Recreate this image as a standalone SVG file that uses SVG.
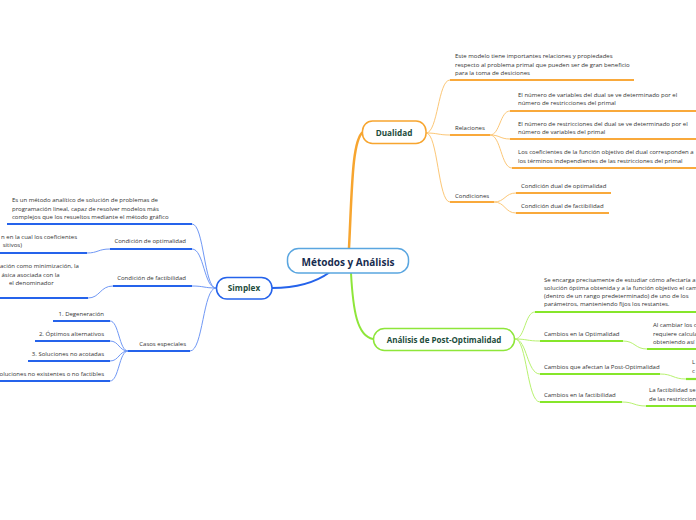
<svg xmlns="http://www.w3.org/2000/svg" width="696" height="520" viewBox="0 0 696 520">
<style>
.t{font-family:"Open Sans","Liberation Sans",sans-serif;font-size:6px;fill:#333}
.nt{font-family:"Open Sans","Liberation Sans",sans-serif;font-weight:bold;font-size:8.2px;fill:#1d4d3c;text-anchor:middle}
.e{text-anchor:end}
path,line{fill:none}
.co{stroke:#fcc777;stroke-width:1}
.uo{stroke:#f9a93b;stroke-width:2.2}
.cg{stroke:#b8f270;stroke-width:1}
.ug{stroke:#86e62a;stroke-width:2.2}
.cb{stroke:#7098f5;stroke-width:1}
.ub{stroke:#2563eb;stroke-width:2.2}
</style>
<rect width="696" height="520" fill="#fff"/>
<g id="connectors">
  <path d="M349,248 C352,190 352,140 363,132" stroke="#f7a52f" stroke-width="2.5"/>
  <path d="M351,273 C353,310 357,336 373,339" stroke="#8ee63a" stroke-width="2"/>
  <path d="M272,288 C295,288 315,283 330,272" stroke="#2563eb" stroke-width="2"/>
  <path class="co" d="M426,133 C438,133 438,80 450,80"/>
  <path class="co" d="M426,133 C438,133 438,135 450,135"/>
  <path class="co" d="M426,133 C438,133 438,202 450,202"/>
  <path class="co" d="M490,135 C500,135 500,111 510,111"/>
  <path class="co" d="M490,135 C500,135 500,139 510,139"/>
  <path class="co" d="M490,135 C501,135 501,168 512,168"/>
  <path class="co" d="M494,202 C505,202 505,193 516,193"/>
  <path class="co" d="M494,202 C505,202 505,213 516,213"/>
  <path class="cg" d="M515,339 C525,339 525,312 535,312"/>
  <path class="cg" d="M515,339 C527,339 527,341 540,341"/>
  <path class="cg" d="M515,339 C527,339 527,374 540,374"/>
  <path class="cg" d="M515,339 C527,339 527,402 540,402"/>
  <path class="cg" d="M623,341 C635,341 635,349 647,349"/>
  <path class="cg" d="M660,374 C673,374 673,379 686,379"/>
  <path class="cg" d="M622,402 C634,402 634,406 646,406"/>
  <path class="cb" d="M216,288 C204,288 204,224 192,224"/>
  <path class="cb" d="M216,288 C204,288 204,249 192,249"/>
  <path class="cb" d="M216,288 C204,288 204,286 192,286"/>
  <path class="cb" d="M216,288 C203,288 203,351 190,351"/>
  <path class="cb" d="M110,249 C98,249 98,253 87,253"/>
  <path class="cb" d="M113,286 C100,286 100,298 88,298"/>
  <path class="cb" d="M128,351 C119,351 119,321 110,321"/>
  <path class="cb" d="M128,351 C119,351 119,341 110,341"/>
  <path class="cb" d="M128,351 C119,351 119,361 110,361"/>
  <path class="cb" d="M128,351 C119,351 119,381 110,381"/>
</g>
<g id="central">
  <rect x="287.5" y="248.5" width="121" height="24.5" rx="11" fill="#fff" stroke="#5aa6e0" stroke-width="1.5"/>
  <text class="nt" x="348" y="265.5" style="font-size:10px;fill:#172c4f">Métodos y Análisis</text>
</g>
<g id="dualidad">
  <rect x="362.5" y="121" width="63.5" height="22.5" rx="10" fill="#fff" stroke="#f7a52f" stroke-width="1.5"/>
  <text class="nt" x="394" y="135.5">Dualidad</text>
</g>
<g id="dual-desc">
  <text class="t" x="455" y="57.8">Este modelo tiene importantes relaciones y propiedades</text>
  <text class="t" x="455" y="66.5">respecto al problema primal que pueden ser de gran beneficio</text>
  <text class="t" x="455" y="75.2">para la toma de desiciones</text>
  <line class="uo" x1="450" y1="80" x2="634" y2="80"/>
</g>
<g id="relaciones">
  <text class="t" x="455" y="130">Relaciones</text>
  <line class="uo" x1="450" y1="135" x2="490" y2="135"/>
</g>
<g id="rel-1">
  <text class="t" x="518" y="96.5">El número de variables del dual se ve determinado por el</text>
  <text class="t" x="518" y="105.3">número de restricciones del primal</text>
  <line class="uo" x1="510" y1="111" x2="696" y2="111"/>
</g>
<g id="rel-2">
  <text class="t" x="518" y="125.5">El número de restricciones del dual se ve determinado por el</text>
  <text class="t" x="518" y="133.5">número de variables del primal</text>
  <line class="uo" x1="510" y1="139" x2="696" y2="139"/>
</g>
<g id="rel-3">
  <text class="t" x="518" y="154.2">Los coeficientes de la función objetivo del dual corresponden a</text>
  <text class="t" x="518" y="163">los términos independientes de las restricciones del primal</text>
  <line class="uo" x1="512" y1="168" x2="696" y2="168"/>
</g>
<g id="condiciones">
  <text class="t" x="455" y="198">Condiciones</text>
  <line class="uo" x1="450" y1="202" x2="494" y2="202"/>
</g>
<g id="cond-1">
  <text class="t" x="521" y="188">Condición dual de optimalidad</text>
  <line class="uo" x1="516" y1="193" x2="611" y2="193"/>
</g>
<g id="cond-2">
  <text class="t" x="521" y="208">Condición dual de factibilidad</text>
  <line class="uo" x1="516" y1="213" x2="609" y2="213"/>
</g>
<g id="postopt">
  <rect x="373.5" y="328.5" width="141" height="22" rx="11" fill="#fff" stroke="#8ee63a" stroke-width="1.5"/>
  <text class="nt" x="444" y="342.5" style="font-size:8px">Análisis de Post-Optimalidad</text>
</g>
<g id="post-desc">
  <text class="t" x="544" y="281.5">Se encarga precisamente de estudiar cómo afectaría a</text>
  <text class="t" x="544" y="289.5">solución óptima obtenida y a la función objetivo el cam</text>
  <text class="t" x="544" y="297.5">(dentro de un rango predeterminado) de uno de los</text>
  <text class="t" x="544" y="305.5">parámetros, manteniendo fijos los restantes.</text>
  <line class="ug" x1="535" y1="312" x2="696" y2="312"/>
</g>
<g id="cambios-opt">
  <text class="t" x="544" y="336">Cambios en la Optimalidad</text>
  <line class="ug" x1="540" y1="341" x2="623" y2="341"/>
</g>
<g id="cambios-opt-1">
  <text class="t" x="653" y="327">Al cambiar los c</text>
  <text class="t" x="653" y="336">requiere calcula</text>
  <text class="t" x="653" y="344">obteniendo así r</text>
  <line class="ug" x1="647" y1="349" x2="696" y2="349"/>
</g>
<g id="cambios-post">
  <text class="t" x="544" y="369">Cambios que afectan la Post-Optimalidad</text>
  <line class="ug" x1="540" y1="374" x2="660" y2="374"/>
</g>
<g id="cambios-post-1">
  <text class="t" x="692" y="364">L</text>
  <text class="t" x="692" y="373">c</text>
  <line class="ug" x1="686" y1="379" x2="696" y2="379"/>
</g>
<g id="cambios-fact">
  <text class="t" x="544" y="397">Cambios en la factibilidad</text>
  <line class="ug" x1="540" y1="402" x2="622" y2="402"/>
</g>
<g id="cambios-fact-1">
  <text class="t" x="649" y="392">La factibilidad se</text>
  <text class="t" x="649" y="401">de las restriccion</text>
  <line class="ug" x1="646" y1="406" x2="696" y2="406"/>
</g>
<g id="simplex">
  <rect x="216.5" y="277.5" width="55.5" height="21.5" rx="10.5" fill="#fff" stroke="#2563eb" stroke-width="1.5"/>
  <text class="nt" x="244" y="291">Simplex</text>
</g>
<g id="simplex-desc">
  <text class="t" x="12" y="202">Es un método analítico de solución de problemas de</text>
  <text class="t" x="12" y="210.5">programación lineal, capaz de resolver modelos más</text>
  <text class="t" x="12" y="219">complejos que los resueltos mediante el método gráfico</text>
  <line class="ub" x1="7" y1="224" x2="192" y2="224"/>
</g>
<g id="cond-opt">
  <text class="t e" x="186" y="243">Condición de optimalidad</text>
  <line class="ub" x1="110" y1="249" x2="192" y2="249"/>
</g>
<g id="cond-opt-1">
  <text class="t e" x="77" y="239">n en la cual los coeficientes</text>
  <text class="t e" x="22" y="247">sitivos)</text>
  <line class="ub" x1="0" y1="253" x2="87" y2="253"/>
</g>
<g id="cond-fact">
  <text class="t e" x="186" y="280">Condición de factibilidad</text>
  <line class="ub" x1="113" y1="286" x2="192" y2="286"/>
</g>
<g id="cond-fact-1">
  <text class="t" x="0" y="268">ación como minimización, la</text>
  <text class="t" x="1.5" y="276.5">ásica asociada con la</text>
  <text class="t" x="9" y="285">el denominador</text>
  <line class="ub" x1="0" y1="298" x2="88" y2="298"/>
</g>
<g id="casos">
  <text class="t e" x="186" y="346">Casos especiales</text>
  <line class="ub" x1="128" y1="351" x2="190" y2="351"/>
</g>
<g id="caso-1">
  <text class="t e" x="104" y="316">1. Degeneración</text>
  <line class="ub" x1="53" y1="321" x2="110" y2="321"/>
</g>
<g id="caso-2">
  <text class="t e" x="104" y="336">2. Óptimos alternativos</text>
  <line class="ub" x1="35" y1="341" x2="110" y2="341"/>
</g>
<g id="caso-3">
  <text class="t e" x="104" y="355.5">3. Soluciones no acotadas</text>
  <line class="ub" x1="28" y1="361" x2="110" y2="361"/>
</g>
<g id="caso-4">
  <text class="t e" x="104" y="375.5">oluciones no existentes o no factibles</text>
  <line class="ub" x1="0" y1="381" x2="110" y2="381"/>
</g>
</svg>
